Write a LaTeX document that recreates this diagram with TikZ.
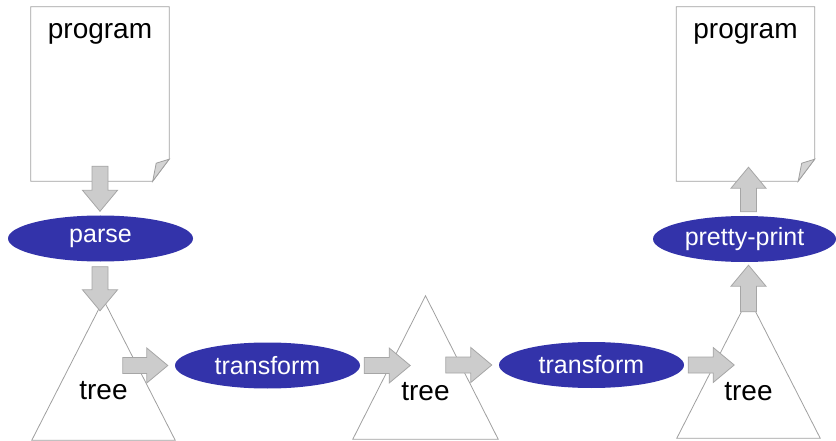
\documentclass[tikz,border=0pt]{standalone}
\usepackage{fontspec}
\setmainfont{Liberation Sans}
\usetikzlibrary{calc,positioning,shapes.geometric}

\definecolor{ovalblue}{HTML}{3333AA}
\definecolor{arrfill}{HTML}{CCCCCC}
\definecolor{arrline}{HTML}{A6A6A6}
\definecolor{edgegray}{HTML}{A0A0A0}

\tikzset{
  page/.style={minimum width=138pt, minimum height=174pt, inner sep=0pt},
  treebox/.style={minimum width=143pt, minimum height=140pt, inner sep=0pt},
  outline/.style={draw=edgegray, line width=0.8pt, fill=white},
  fold/.style={draw=edgegray, line width=0.8pt, fill=arrfill!85},
  word/.style={text=black, font=\fontsize{28}{32}\selectfont, inner sep=0pt},
  stage/.style={ellipse, fill=ovalblue, text=white, minimum width=185pt,
    minimum height=46pt, inner sep=0pt, font=\fontsize{25}{30}\selectfont},
  blockarr/.style={draw=arrline, fill=arrfill, line width=0.8pt},
}

% 太い矢印 (始点, 先端)
\newcommand{\blockarrow}[2]{%
  \path ($(#2)!21pt!(#1)$) coordinate (neck);
  \draw[blockarr] ($(#1)!8pt!90:(#2)$) -- ($(neck)!8pt!90:(#2)$)
    -- ($(neck)!17.5pt!90:(#2)$) -- (#2) -- ($(neck)!17.5pt!-90:(#2)$)
    -- ($(neck)!8pt!-90:(#2)$) -- ($(#1)!8pt!-90:(#2)$) -- cycle;}

% 紙 (折れた角つき)
\newcommand{\paper}[1]{%
  \draw[outline] (#1.north west) -- (#1.north east) -- ([yshift=22pt]#1.south east)
    -- ([xshift=-16.5pt]#1.south east) -- (#1.south west) -- cycle;
  \draw[fold] ([xshift=-16.5pt]#1.south east) -- ([xshift=-13pt,yshift=18pt]#1.south east)
    -- ([yshift=22pt]#1.south east) -- cycle;}

% 三角形の木
\newcommand{\treeshape}[1]{%
  \draw[outline] (#1.north) -- (#1.south east) -- (#1.south west) -- cycle;}

\begin{document}
\begin{tikzpicture}[x=1pt, y=-1pt]
  \useasboundingbox (0,0) rectangle (836,441);

  % プログラム
  \node[page] (src) at (100,94) {};
  \node[page] (dst) at (745.5,94) {};
  \paper{src}
  \paper{dst}
  \node[word] (srctext) at ([yshift=-27pt]src.north) {program};
  \node[word] (dsttext) at ([yshift=-27pt]dst.north) {program};

  % 木
  \node[treebox] (tree1) at (103.5,370) {};
  \node[treebox, minimum width=145pt, minimum height=143pt] (tree2) at (425.5,367.5) {};
  \node[treebox] (tree3) at (748.5,368) {};
  \treeshape{tree1}
  \treeshape{tree2}
  \treeshape{tree3}
  \node[word] (tree1text) at (103.5,391) {tree};
  \node[word] (tree2text) at (425.5,392) {tree};
  \node[word] (tree3text) at (748.5,392) {tree};

  % 処理
  \node[stage] (parse) at (100.5,238.5) {parse};
  \node[stage] (trans1) at (267.5,365.5) {transform};
  \node[stage] (trans2) at (591.5,365) {transform};
  \node[stage, minimum width=183pt] (pretty) at (744.5,239) {pretty-print};

  % 矢印の端点
  \coordinate (a1s) at ([yshift=15pt]src.south);
  \coordinate (a1e) at ($(parse.north -| a1s)+(0,-4)$);
  \coordinate (a2s) at ($(parse.south -| a1s)+(0,5)$);
  \coordinate (a2e) at ($(tree1.north -| a1s)+(0,11)$);
  \coordinate (a3s) at ($(trans1.west)+(-52,0)$);
  \coordinate (a3e) at ($(trans1.west)+(-7,0)$);
  \coordinate (a4s) at ($(trans1.east)+(4,0)$);
  \coordinate (a4e) at ($(trans1.east)+(50,0)$);
  \coordinate (a5s) at ($(trans2.west)+(-53,0)$);
  \coordinate (a5e) at ($(trans2.west)+(-7,0)$);
  \coordinate (a6s) at ($(trans2.east)+(4,0)$);
  \coordinate (a6e) at ($(trans2.east)+(50,0)$);
  \coordinate (a7s) at ($(tree3.north)+(0,14)$);
  \coordinate (a7e) at ($(pretty.south -| a7s)+(0,3)$);
  \coordinate (a8s) at ($(pretty.north -| a7s)+(0,-4)$);
  \coordinate (a8e) at ($(dst.south -| a7s)+(0,-14)$);

  % 矢印
  \blockarrow{a1s}{a1e}
  \blockarrow{a2s}{a2e}
  \blockarrow{a3s}{a3e}
  \blockarrow{a4s}{a4e}
  \blockarrow{a5s}{a5e}
  \blockarrow{a6s}{a6e}
  \blockarrow{a7s}{a7e}
  \blockarrow{a8s}{a8e}
\end{tikzpicture}
\end{document}
